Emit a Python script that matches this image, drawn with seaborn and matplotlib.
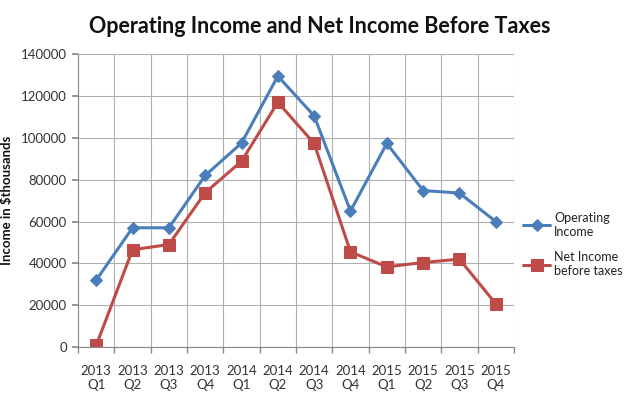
import matplotlib
matplotlib.use("Agg")
import matplotlib.pyplot as plt
import seaborn as sns
import pandas as pd
import numpy as np

quarters = ["2013\nQ1", "2013\nQ2", "2013\nQ3", "2013\nQ4", "2014\nQ1", "2014\nQ2",
            "2014\nQ3", "2014\nQ4", "2015\nQ1", "2015\nQ2", "2015\nQ3", "2015\nQ4"]
operating_income = [32000, 57000, 57000, 82000, 97500, 129500, 110500, 65000, 97300, 74800, 73600, 60000]
net_income = [800, 46500, 49000, 73800, 88800, 117000, 97300, 45500, 38300, 40400, 42000, 20700]
series_names = ["Operating\nIncome", "Net Income\nbefore taxes"]
y_ticks = [0, 20000, 40000, 60000, 80000, 100000, 120000, 140000]

sns.set_theme(style="white")
plt.rcParams['font.family'] = ['Lato', 'DejaVu Sans']

df = pd.DataFrame({
    "Quarter": quarters * 2,
    "Income": operating_income + net_income,
    "Series": [series_names[0]] * len(quarters) + [series_names[1]] * len(quarters),
})

fig = plt.figure(figsize=(6.4, 4.04), dpi=100)
ax = fig.add_axes([0.122, 0.141, 0.681, 0.725])

palette = {series_names[0]: "#4A7EBB", series_names[1]: "#BE4B48"}
markers = {series_names[0]: "D", series_names[1]: "s"}
sizes_m = {series_names[0]: 6, series_names[1]: 9}

for name in series_names:
    sub = df[df["Series"] == name]
    sns.lineplot(data=sub, x="Quarter", y="Income", ax=ax, color=palette[name],
                 marker=markers[name], markersize=sizes_m[name], markeredgecolor=palette[name],
                 linewidth=2.2, label=name, sort=False)

ax.set_xlim(-0.5, len(quarters) - 0.5)
ax.set_ylim(0, 140000)
ax.set_yticks(y_ticks)
ax.set_yticklabels([str(v) for v in y_ticks], fontsize=9.5, color="#333333")
ax.set_xticks(range(len(quarters)))
ax.set_xticklabels(quarters, fontsize=9.5, color="#333333", linespacing=1.15)
ax.set_xticks(np.arange(-0.5, len(quarters), 1.0), minor=True)
ax.tick_params(axis="x", which="major", length=0, pad=13)
ax.tick_params(axis="x", which="minor", length=4, color="#888888", direction="out", bottom=True)
ax.tick_params(axis="y", length=4, color="#888888", direction="out", left=True, pad=4)

ax.grid(True, axis="y", color="#b0b0b0", linewidth=0.8)
ax.grid(True, axis="x", which="minor", color="#b0b0b0", linewidth=0.8)
ax.grid(False, axis="x", which="major")
ax.set_axisbelow(True)

for s in ["top", "right"]:
    ax.spines[s].set_visible(False)
for s in ["left", "bottom"]:
    ax.spines[s].set_color("#888888")
    ax.spines[s].set_linewidth(0.8)

ax.set_xlabel("")
ax.set_ylabel("Income in $thousands", fontsize=9.5, fontweight="bold", color="#111111")
ax.yaxis.set_label_coords(-0.15, 0.5)

leg = ax.legend(loc="center left", bbox_to_anchor=(1.015, 0.35), frameon=False,
                fontsize=9, handlelength=2.2, labelspacing=1.1, handletextpad=0.3,
                borderpad=0.2, borderaxespad=0.0)
for t in leg.get_texts():
    t.set_color("#222222")

fig.text(0.5, 0.935, "Operating Income and Net Income Before Taxes", ha="center", va="center",
         fontsize=15.5, fontweight="bold", color="#111111")

fig.savefig("out.png", dpi=100, facecolor="white")
